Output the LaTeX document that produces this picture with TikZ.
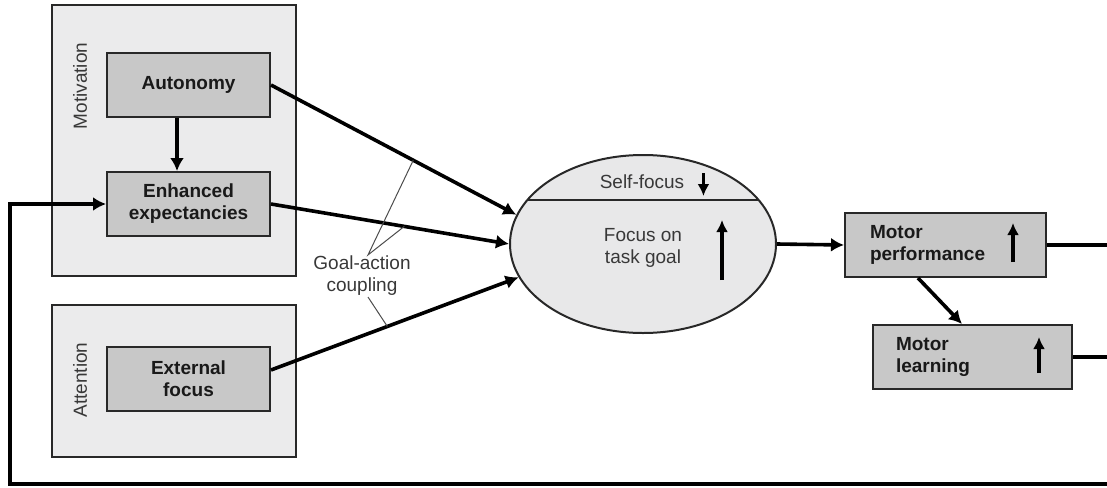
\documentclass[tikz,border=0pt]{standalone}
\usepackage{fontspec}
\setmainfont{Liberation Sans}
\usetikzlibrary{shapes.geometric, positioning, arrows.meta, calc}

\definecolor{panel}{RGB}{235,235,236}
\definecolor{boxfill}{RGB}{200,200,200}
\definecolor{ovalfill}{RGB}{232,232,233}
\definecolor{edge}{RGB}{40,40,40}

\tikzset{
  group/.style={draw=edge, line width=1.6pt, fill=panel},
  box/.style={draw=edge, line width=2pt, fill=boxfill, minimum width=163pt, minimum height=64pt,
    inner sep=0pt, align=center, font=\fontsize{19}{22}\selectfont\bfseries, text=black!90},
  lbl/.style={font=\fontsize{19}{22}\selectfont, text=black!78, align=center, inner sep=1pt},
  flow/.style={line width=3.6pt, -{Latex[length=13pt,width=14pt]}},
  link/.style={line width=3.6pt},
  hint/.style={line width=1pt, draw=black!70},
  trend/.style={line width=3.4pt, -{Latex[length=12pt,width=12pt]}},
}

\begin{document}
\begin{tikzpicture}[x=1pt, y=-1pt]
  \useasboundingbox (0,0) rectangle (1107,487);
  \node[group, minimum width=244pt, minimum height=271pt] (mot) at (174,140.5) {};
  \node[group, minimum width=244pt, minimum height=152pt] (att) at (174,381) {};
  \node[lbl, rotate=90] (motlbl) at (80,86) {Motivation};
  \node[lbl, rotate=90] (attlbl) at (80,380) {Attention};
  \node[box] (aut) at (188.5,85) {Autonomy};
  \node[box] (enh) at (188.5,204) {Enhanced\\expectancies};
  \node[box] (ext) at (188.5,379) {External\\focus};

  \node[ellipse, draw=edge, line width=2pt, fill=ovalfill, minimum width=266pt, minimum height=178pt, inner sep=0pt] (task) at (643,244) {};
  \draw[line width=2pt, draw=edge] ($(task.center)+(-115.6,-44)$) -- ($(task.center)+(115.6,-44)$);
  \node[lbl] (self) at (642,182) {Self-focus};
  \node[lbl] (goal) at (643,248) {Focus on\\task goal};
  \draw[trend] ($(self.east)+(18,-9)$) -- ($(self.east)+(18,14)$);
  \draw[trend] ($(task.center)+(79,36)$) -- ($(task.center)+(79,-24)$);

  \node[box, minimum width=201pt, text width=151pt, inner xsep=25pt, align=left] (perf) at (945.5,245) {Motor\\performance};
  \node[box, minimum width=199pt, text width=153pt, inner xsep=23pt, align=left] (learn) at (972.5,357) {Motor\\learning};
  \draw[trend] ($(perf.east)+(-34,17)$) -- ($(perf.east)+(-34,-22)$);
  \draw[trend] ($(learn.east)+(-34,16)$) -- ($(learn.east)+(-34,-20)$);

  \draw[flow] ([xshift=-11.5pt]aut.south) -- ([xshift=-11.5pt]enh.north);
  \draw[flow] (aut.east) -- coordinate[pos=0.58] (c1) (task.167);
  \draw[flow] (enh.east) -- coordinate[pos=0.56] (c2) (task.west);
  \draw[flow] ([yshift=9pt]ext.east) -- coordinate[pos=0.47] (c3) (task.195);

  \node[lbl] (gac) at (362,276) {Goal-action\\coupling};
  \draw[hint] (c1) -- ([xshift=6pt]gac.north) -- (c2);
  \draw[hint] ([xshift=6pt]gac.south) -- (c3);

  \draw[flow] (task.east) -- (perf.west);
  \draw[flow] ([xshift=-27.5pt]perf.south) -- ([xshift=-10.5pt]learn.north);
  \coordinate (fbr) at (1113,484);
  \coordinate (fbl) at (10,484);
  \draw[flow] (perf.east) -| (fbr) -- (fbl) |- (enh.west);
  \draw[link] (learn.east) -- (learn.east -| fbr);
\end{tikzpicture}
\end{document}
